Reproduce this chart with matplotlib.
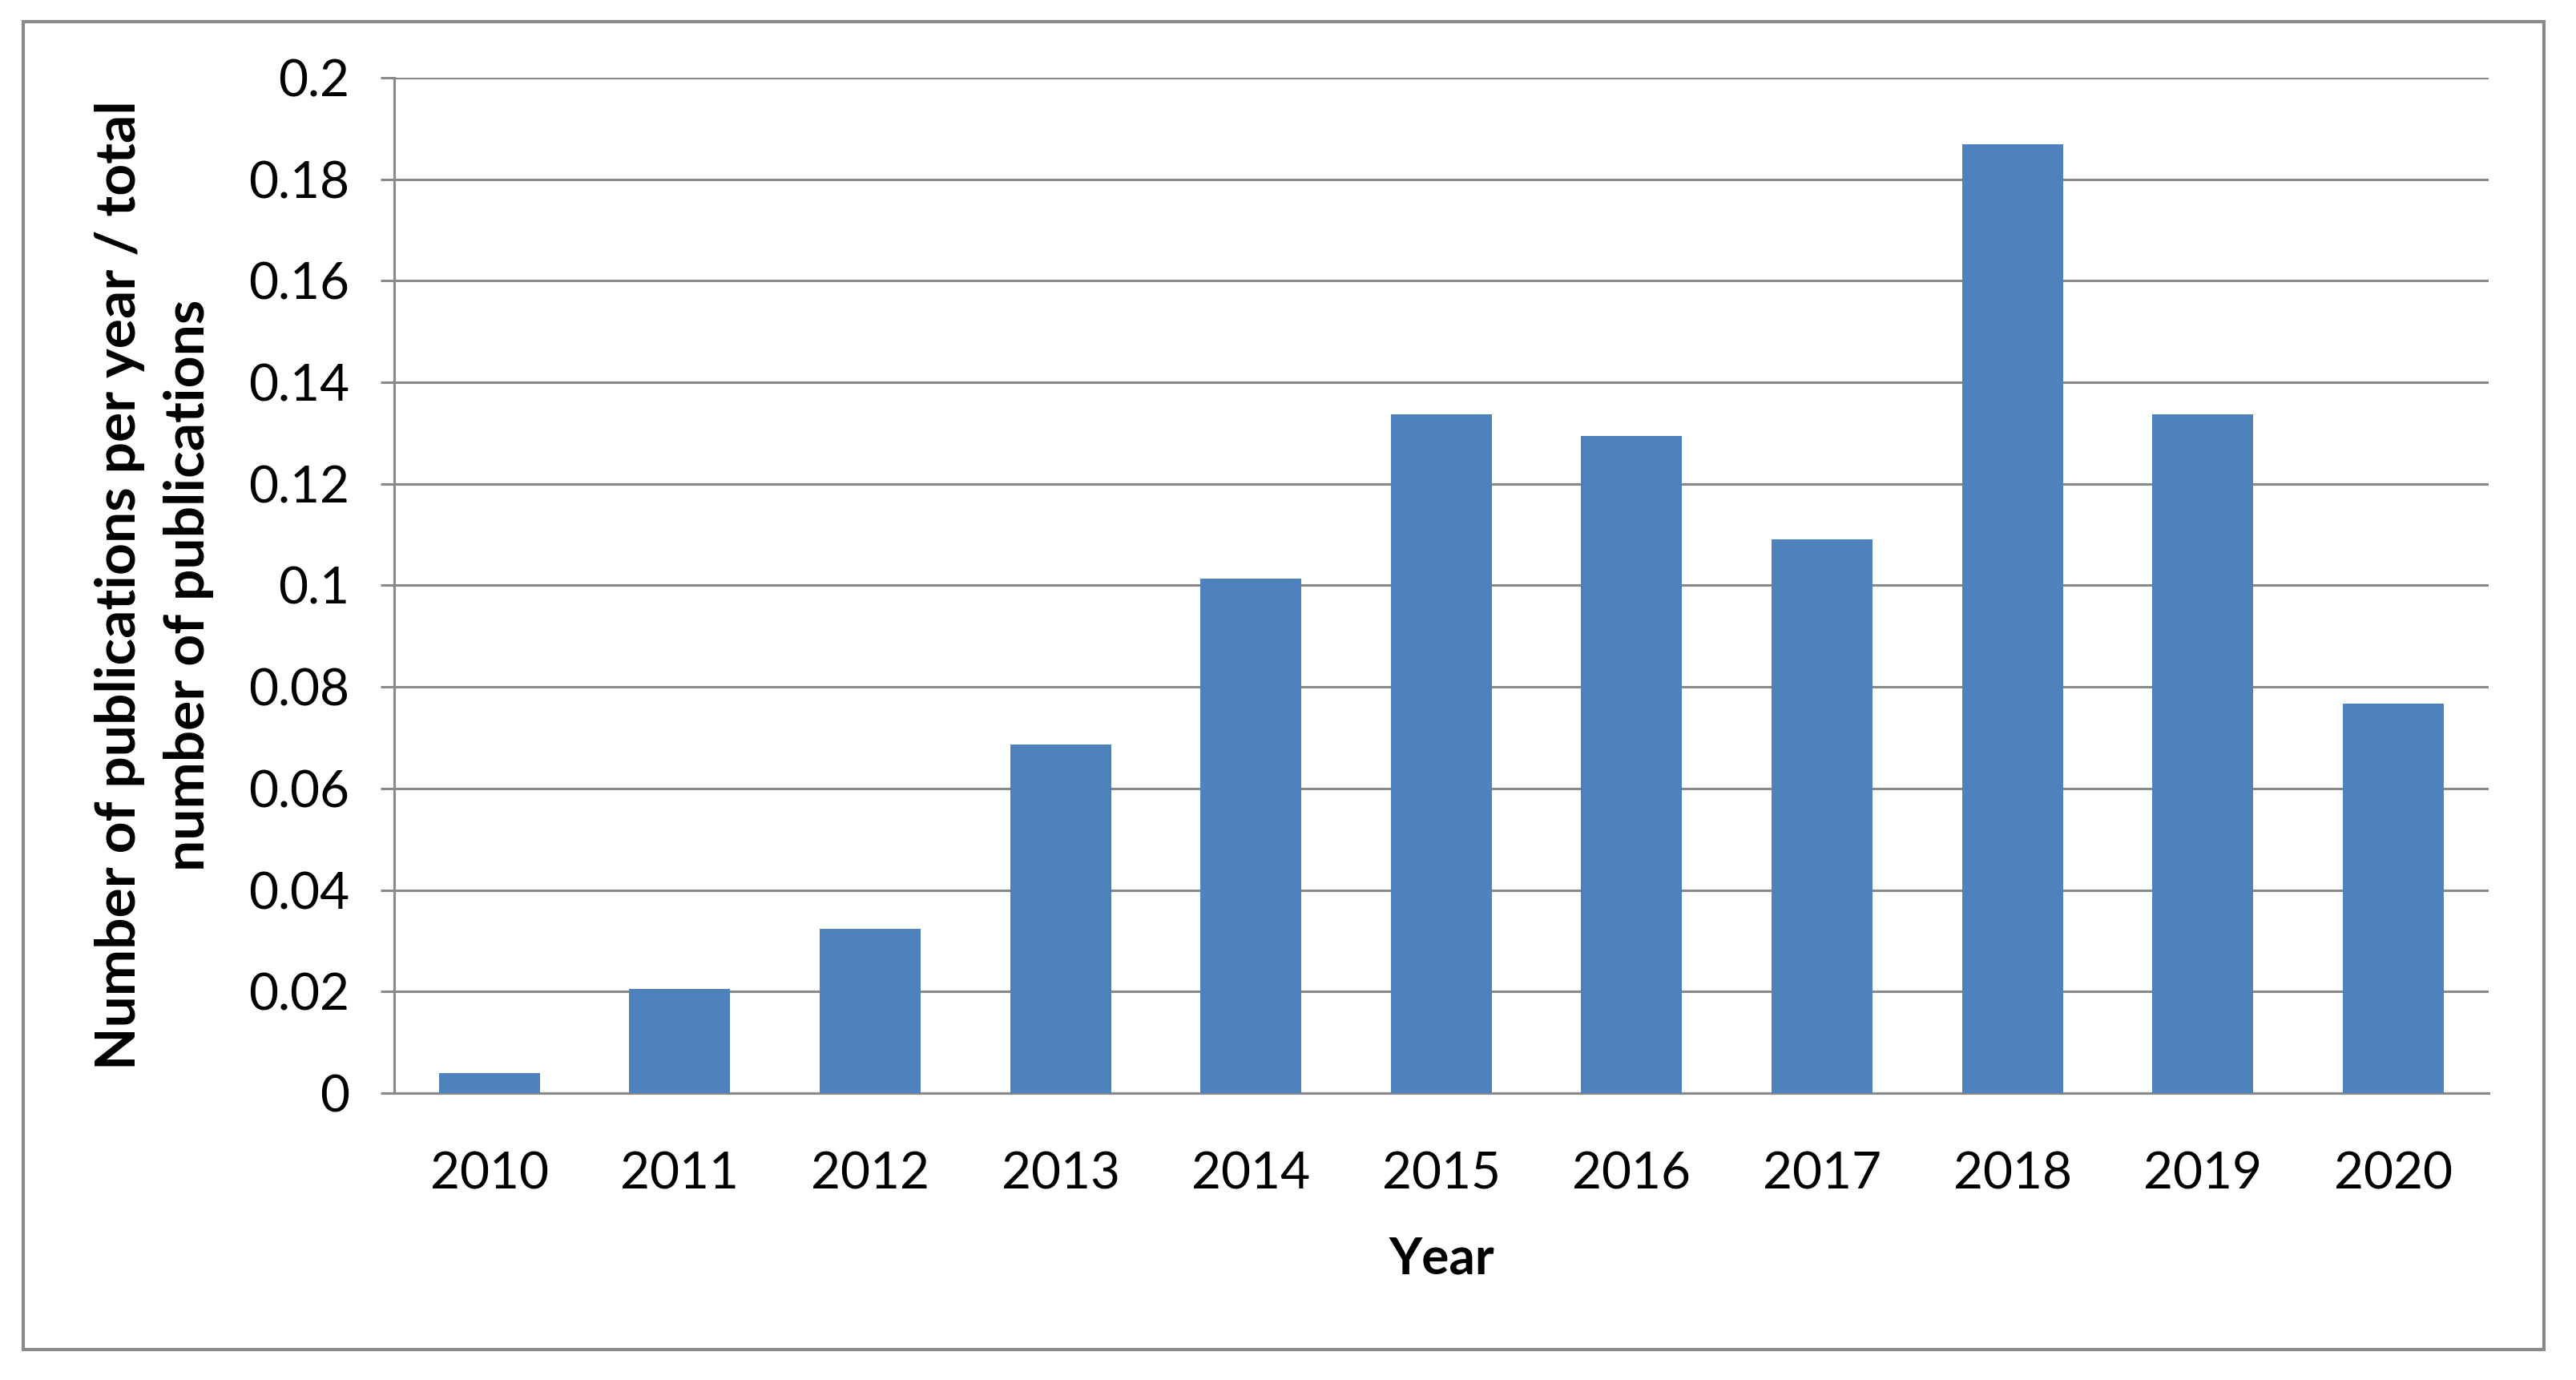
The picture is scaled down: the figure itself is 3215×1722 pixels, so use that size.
import numpy as np
import matplotlib
matplotlib.use('Agg')
import matplotlib.pyplot as plt
from matplotlib.patches import Rectangle

# datos
anios = ['2010', '2011', '2012', '2013', '2014', '2015', '2016', '2017', '2018', '2019', '2020']
valores = [0.004, 0.0205, 0.0323, 0.0687, 0.1013, 0.1337, 0.1295, 0.1091, 0.1869, 0.1337, 0.0767]
ticks_y = [0, 0.02, 0.04, 0.06, 0.08, 0.1, 0.12, 0.14, 0.16, 0.18, 0.2]

plt.rcParams['font.family'] = ['Lato', 'DejaVu Sans']

gris = '#898989'
azul = '#4F81BD'

fig = plt.figure(figsize=(32.15, 17.22), dpi=100)
ax = fig.add_axes([0.153, 0.2079, 0.813, 0.7358])

x = np.arange(len(anios))
ax.bar(x, valores, width=0.53, color=azul, zorder=3)

ax.set_xlim(-0.5, len(anios) - 0.5)
ax.set_ylim(0, 0.2)
ax.set_yticks(ticks_y)
ax.set_yticklabels([f'{t:g}' for t in ticks_y], fontsize=46)
ax.set_xticks(x)
ax.set_xticklabels(anios, fontsize=46)

# lineas de la cuadricula tipo excel
ax.grid(axis='y', color=gris, linewidth=2.2, zorder=0)
for s in ['top', 'right']:
    ax.spines[s].set_visible(False)
ax.spines['left'].set_color(gris)
ax.spines['left'].set_linewidth(2.2)
ax.spines['bottom'].set_color(gris)
ax.spines['bottom'].set_linewidth(2.2)
ax.tick_params(axis='y', length=12, width=2.2, color=gris, pad=28)
ax.tick_params(axis='x', length=0, pad=52)

ax.set_xlabel('Year', fontsize=46, fontweight='bold', labelpad=35)
ax.set_ylabel('Number of publications per year / total\nnumber of publications',
              fontsize=50, fontweight='bold', linespacing=1.45)
ax.yaxis.set_label_coords(-0.086, 0.5)

# marco exterior del grafico
fig.patches.append(Rectangle((0.009, 0.022), 0.9785, 0.9623, transform=fig.transFigure,
                             fill=False, edgecolor=gris, linewidth=3))

fig.savefig('out.png', dpi=100)
